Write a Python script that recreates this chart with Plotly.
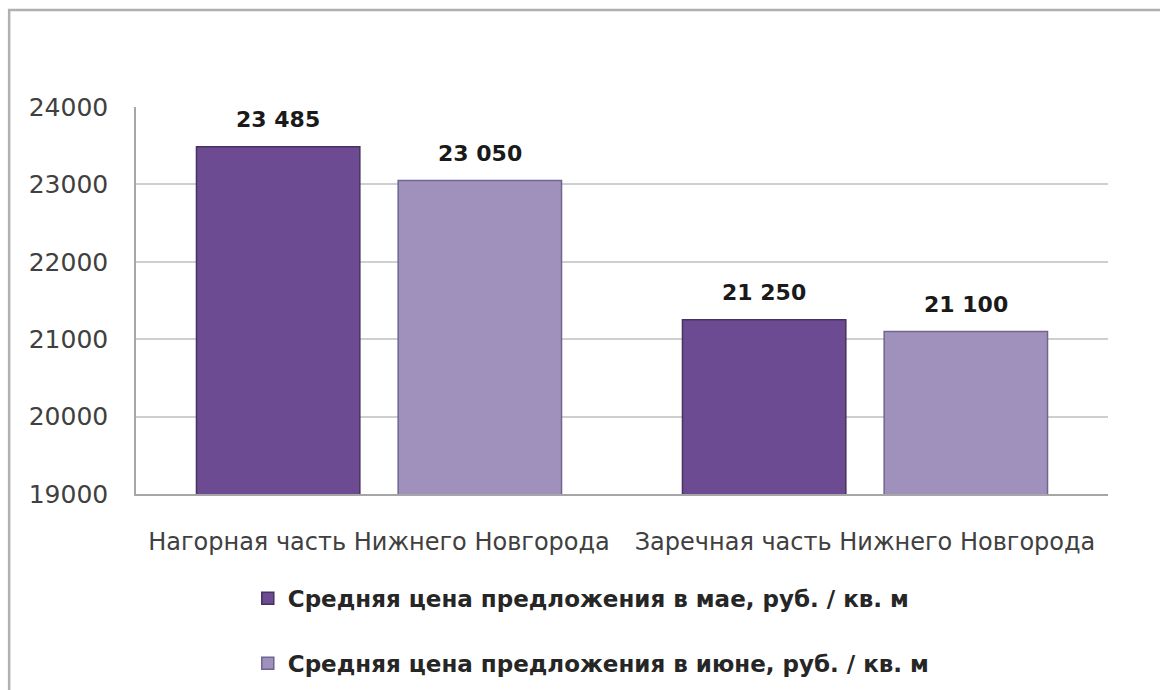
import plotly.graph_objects as go

# Average asking price per square metre, by district
districts = ["Нагорная часть Нижнего Новгорода", "Заречная часть Нижнего Новгорода"]
series_names = [
    "Средняя цена предложения в мае, руб. / кв. м",
    "Средняя цена предложения в июне, руб. / кв. м",
]
may_prices = [23485, 21250]
june_prices = [23050, 21100]
y_ticks = [19000, 20000, 21000, 22000, 23000, 24000]

colors = ["#6c4b92", "#a091bc"]
edge_colors = ["#47335f", "#6f6590"]

FONT = "'DejaVu Sans', sans-serif"
BARGAP = 0.17
BARGROUPGAP = 0.19

fig = go.Figure()
x_idx = list(range(len(districts)))
all_series = [may_prices, june_prices]
n_series = len(all_series)
slot = (1 - BARGAP) / n_series

for k, (name, vals, col, edge, grp) in enumerate(zip(series_names, all_series, colors, edge_colors, ["may", "june"])):
    fig.add_trace(go.Bar(
        x=x_idx, y=vals, name=name, legendgroup=grp,
        marker=dict(color=col, line=dict(color=edge, width=1.5)),
    ))
    # value labels above each bar
    offset = -(1 - BARGAP) / 2 + slot * (k + 0.5)
    for xi, v in zip(x_idx, vals):
        fig.add_annotation(
            x=xi + offset, y=v, xref="x", yref="y",
            text=f"{v:,}".replace(",", " "), showarrow=False,
            yanchor="middle", yshift=27,
            font=dict(family=FONT, size=22, color="#1a1a1a", weight="bold"),
        )

# Outer chart frame
fig.add_shape(type="rect", xref="paper", yref="paper",
              x0=-0.1305, x1=1.1, y0=-0.6, y1=1.2506,
              line=dict(color="#b0b0b0", width=2.5), fillcolor="rgba(0,0,0,0)", layer="below")

fig.update_layout(
    width=1160, height=690,
    margin=dict(l=136, r=52, t=107, b=196, autoexpand=False),
    paper_bgcolor="white", plot_bgcolor="white",
    barmode="group", bargap=BARGAP, bargroupgap=BARGROUPGAP,
    showlegend=True,
    legend=dict(
        x=0.115, xanchor="left", y=-0.214, yanchor="top",
        orientation="v", tracegroupgap=32,
        font=dict(family=FONT, size=23, color="#262626", weight="bold"),
        itemwidth=30,
    ),
    font=dict(family=FONT),
)
fig.update_xaxes(
    tickmode="array", tickvals=x_idx, ticktext=districts,
    range=[-0.5, 1.5],
    tickfont=dict(family=FONT, size=24, color="#404040"),
    showline=True, linecolor="#a6a6a6", linewidth=1.5,
    ticks="", ticklabelstandoff=25, showgrid=False, zeroline=False,
)
fig.update_yaxes(
    range=[19000, 24000], tickvals=y_ticks, ticktext=[str(t) for t in y_ticks],
    tickfont=dict(family=FONT, size=25, color="#404040"),
    showgrid=True, gridcolor="#cfcfcf", gridwidth=1.5,
    showline=True, linecolor="#a6a6a6", linewidth=1.5,
    ticks="", ticklabelstandoff=21, zeroline=False,
)

fig.write_html("out.html")
